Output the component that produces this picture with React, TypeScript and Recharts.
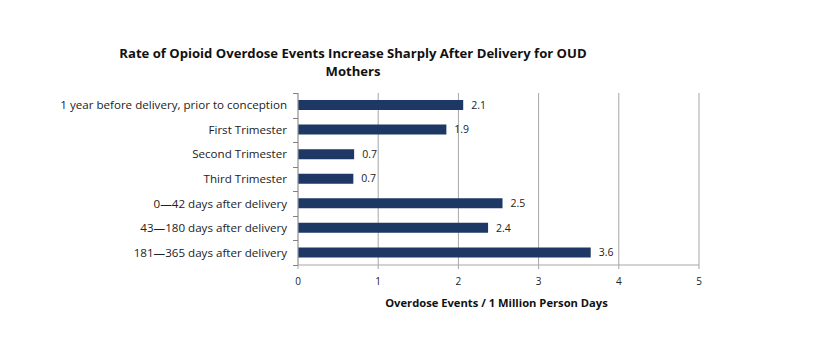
import React from "react";
import {
  BarChart,
  Bar,
  XAxis,
  YAxis,
  CartesianGrid,
  LabelList,
} from "recharts";

const CATEGORIES = [
  "1 year before delivery, prior to conception",
  "First Trimester",
  "Second Trimester",
  "Third Trimester",
  "0\u201442 days after delivery",
  "43\u2014180 days after delivery",
  "181\u2014365 days after delivery",
];

const RATES = [2.06, 1.85, 0.7, 0.69, 2.55, 2.37, 3.65];
const RATE_LABELS = ["2.1", "1.9", "0.7", "0.7", "2.5", "2.4", "3.6"];
const X_TICKS = [0, 1, 2, 3, 4, 5];

const FONT = "'Open Sans', sans-serif";
const BAR_COLOR = "#1d3864";
const GRID = "#a6a6a6";
const AXIS_X = 298;

const data = CATEGORIES.map((name, i) => ({
  name,
  rate: RATES[i],
  label: RATE_LABELS[i],
}));

function CategoryTick(props: any) {
  const { y, payload, index } = props;
  const band = 172 / CATEGORIES.length;
  const top = Math.round(y - band / 2) + 0.5;
  const bottom = Math.round(y + band / 2) + 0.5;
  return (
    <g>
      <text
        x={AXIS_X - 11}
        y={y}
        dy={4}
        textAnchor="end"
        fontSize={11.6}
        fontFamily={FONT}
        fill="#222"
      >
        {payload.value}
      </text>
      <path d={`M${AXIS_X - 5},${top}H${AXIS_X}`} stroke="#808080" strokeWidth={1} />
      {index === CATEGORIES.length - 1 && (
        <path
          d={`M${AXIS_X - 5},${bottom}H${AXIS_X}`}
          stroke="#808080"
          strokeWidth={1}
        />
      )}
    </g>
  );
}

export default function App() {
  return (
    <div
      style={{
        position: "absolute",
        left: 0,
        top: 0,
        width: 815,
        height: 337,
        background: "#fff",
        fontFamily: FONT,
      }}
    >
      <div
        style={{
          position: "absolute",
          left: 0,
          top: 44,
          width: 706,
          textAlign: "center",
          fontWeight: 700,
          fontSize: 13.1,
          lineHeight: "18px",
          color: "#111",
        }}
      >
        Rate of Opioid Overdose Events Increase Sharply After Delivery for OUD
        <br />
        Mothers
      </div>
      <BarChart
        width={815}
        height={337}
        data={data}
        layout="vertical"
        margin={{ top: 93, right: 116, bottom: 44, left: 0 }}
      >
        <CartesianGrid vertical horizontal={false} stroke={GRID} />
        <XAxis
          type="number"
          domain={[0, 5]}
          ticks={X_TICKS}
          stroke={GRID}
          tickSize={4}
          tickMargin={9}
          tick={{ fontSize: 10, fill: "#222", fontFamily: FONT }}
          height={28}
        />
        <YAxis
          type="category"
          dataKey="name"
          width={AXIS_X}
          stroke={GRID}
          tickLine={false}
          tick={<CategoryTick />}
          interval={0}
        />
        <Bar
          dataKey="rate"
          fill={BAR_COLOR}
          barSize={10}
          isAnimationActive={false}
        >
          <LabelList
            dataKey="label"
            position="right"
            offset={8}
            fontSize={10.5}
            fontFamily={FONT}
            fill="#222"
          />
        </Bar>
      </BarChart>
      <div
        style={{
          position: "absolute",
          left: 296,
          top: 295,
          width: 401,
          textAlign: "center",
          fontWeight: 700,
          fontSize: 11.2,
          color: "#111",
        }}
      >
        Overdose Events / 1 Million Person Days
      </div>
    </div>
  );
}
